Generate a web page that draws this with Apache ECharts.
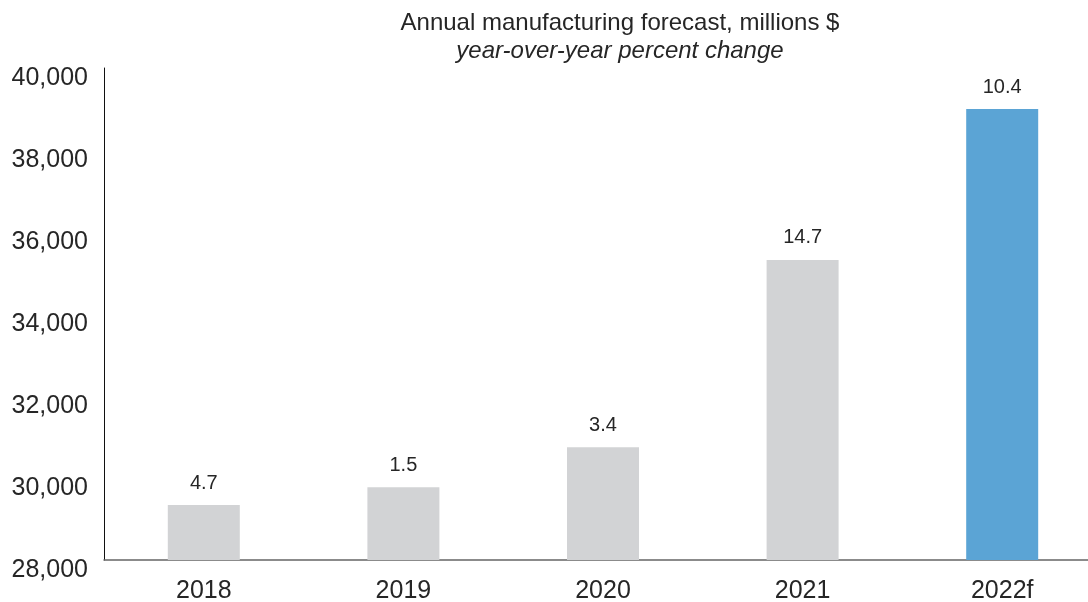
<!DOCTYPE html>
<html>
<head>
<meta charset="utf-8">
<script src="https://cdn.jsdelivr.net/npm/echarts@6/dist/echarts.min.js"></script>
<style>
  html, body { margin: 0; padding: 0; background: #ffffff; }
  #chart { width: 1088px; height: 602px; }
</style>
</head>
<body>
<div id="chart"></div>
<script>
// Annual manufacturing output, millions $ (2022 is a forecast)
const years = ['2018', '2019', '2020', '2021', '2022f'];
const output = [29340, 29775, 30750, 35320, 39000];
// Year-over-year percent change shown above each bar
const pctChange = ['4.7', '1.5', '3.4', '14.7', '10.4'];
const yTicks = { min: 28000, max: 40000, step: 2000 };

const GREY = '#d2d3d5';
const BLUE = '#5ba4d5';
const INK = '#262626';
const FONT = '"Liberation Sans", Arial, sans-serif';

const chart = echarts.init(document.getElementById('chart'), null, { renderer: 'canvas' });

chart.setOption({
  animation: false,
  backgroundColor: '#ffffff',
  textStyle: { fontFamily: FONT },
  title: [
    {
      text: 'Annual manufacturing forecast, millions $',
      left: 615, top: 6, textAlign: 'center',
      textStyle: { fontFamily: FONT, fontSize: 24, fontWeight: 'normal', color: INK }
    },
    {
      text: 'year-over-year percent change',
      left: 615, top: 34, textAlign: 'center',
      textStyle: { fontFamily: FONT, fontSize: 24, fontWeight: 'normal', fontStyle: 'italic', color: INK }
    }
  ],
  // plot band runs slightly past the right edge of the canvas
  grid: { left: 104, width: 998, top: 68, bottom: 42, containLabel: false, outerBoundsMode: 'none' },
  xAxis: {
    type: 'category',
    data: years,
    axisLine: { show: true, lineStyle: { color: '#666666', width: 1.5 } },
    axisTick: { show: false },
    axisLabel: { color: INK, fontSize: 25, fontFamily: FONT, margin: 19 }
  },
  yAxis: {
    type: 'value',
    min: yTicks.min,
    max: yTicks.max,
    interval: yTicks.step,
    axisLine: { show: true, lineStyle: { color: '#111111', width: 1 } },
    axisTick: { show: false },
    splitLine: { show: false },
    axisLabel: {
      color: INK, fontSize: 25, fontFamily: FONT, margin: 16,
      verticalAlign: 'top', lineHeight: 20,
      formatter: v => v.toLocaleString('en-US')
    }
  },
  series: [{
    type: 'bar',
    barWidth: 72,
    data: output.map((v, i) => ({
      value: v,
      itemStyle: { color: i === output.length - 1 ? BLUE : GREY }
    })),
    label: {
      show: true,
      position: 'top',
      distance: 12,
      color: INK,
      fontSize: 20,
      fontFamily: FONT,
      formatter: p => pctChange[p.dataIndex]
    }
  }]
});
</script>
</body>
</html>
